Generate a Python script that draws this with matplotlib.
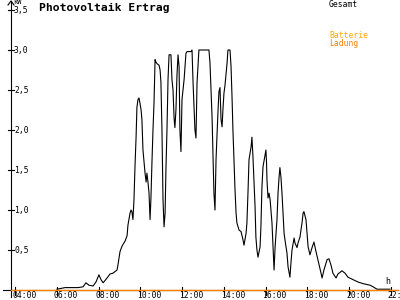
import matplotlib
matplotlib.use('Agg')
import matplotlib.pyplot as plt

# ---- data ----
hours = [6.01, 6.40, 6.73, 7.02, 7.26, 7.40, 7.54, 7.74, 7.88, 8.02,
         8.12, 8.22, 8.41, 8.55, 8.69, 8.79, 8.89, 8.93, 9.03, 9.13,
         9.27, 9.37, 9.41, 9.51, 9.56, 9.60, 9.65, 9.70, 9.75, 9.80,
         9.84, 9.89, 9.94, 9.99, 10.04, 10.08, 10.13, 10.23, 10.28, 10.32,
         10.37, 10.42, 10.47, 10.51, 10.56, 10.61, 10.66, 10.71, 10.75, 10.80,
         10.90, 10.95, 10.99, 11.04, 11.09, 11.14, 11.19, 11.23, 11.28, 11.33,
         11.38, 11.47, 11.52, 11.57, 11.62, 11.66, 11.71, 11.76, 11.81, 11.86,
         11.90, 11.95, 12.00, 12.10, 12.19, 12.24, 12.43, 12.48, 12.53, 12.62,
         12.67, 12.72, 12.81, 13.29, 13.34, 13.44, 13.49, 13.53, 13.58, 13.63,
         13.72, 13.77, 13.82, 13.87, 13.92, 13.96, 14.01, 14.06, 14.16, 14.20,
         14.30, 14.35, 14.40, 14.44, 14.49, 14.54, 14.59, 14.63, 14.73, 14.83,
         14.92, 14.97, 15.07, 15.11, 15.16, 15.21, 15.31, 15.35, 15.40, 15.45,
         15.50, 15.54, 15.59, 15.64, 15.74, 15.78, 15.83, 15.88, 15.98, 16.02,
         16.05, 16.07, 16.12, 16.17, 16.22, 16.31, 16.36, 16.41, 16.46, 16.55,
         16.60, 16.65, 16.69, 16.74, 16.79, 16.84, 16.89, 16.93, 17.03, 17.08,
         17.17, 17.22, 17.27, 17.37, 17.41, 17.51, 17.56, 17.65, 17.75, 17.80,
         17.84, 17.94, 18.04, 18.13, 18.23, 18.32, 18.42, 18.51, 18.66, 18.71,
         18.80, 18.95, 19.04, 19.14, 19.23, 19.38, 19.47, 19.66, 19.81, 19.95,
         20.19, 20.43, 20.67, 21.01, 21.15, 21.34, 21.96]
gesamt_kw = [0.01, 0.03, 0.03, 0.03, 0.04, 0.09, 0.06, 0.05, 0.10, 0.19,
             0.13, 0.09, 0.15, 0.20, 0.21, 0.23, 0.25, 0.31, 0.48, 0.55,
             0.61, 0.68, 0.81, 0.96, 1.00, 0.98, 0.88, 1.13, 1.56, 1.91,
             2.28, 2.38, 2.40, 2.33, 2.25, 2.13, 1.75, 1.46, 1.35, 1.46,
             1.35, 1.21, 0.88, 1.13, 1.59, 2.00, 2.34, 2.88, 2.85, 2.83,
             2.81, 2.75, 2.60, 2.00, 1.13, 0.79, 0.96, 1.50, 2.00, 2.63,
             2.94, 2.94, 2.63, 2.50, 2.15, 2.03, 2.25, 2.69, 2.94, 2.79,
             2.00, 1.73, 2.38, 2.63, 2.96, 2.98, 2.98, 3.00, 2.59, 2.00,
             1.90, 2.59, 3.00, 3.00, 2.84, 2.16, 1.66, 1.21, 1.00, 1.63,
             2.21, 2.48, 2.53, 2.13, 2.04, 2.25, 2.46, 2.56, 2.84, 3.00,
             3.00, 2.79, 2.38, 2.00, 1.63, 1.25, 0.96, 0.84, 0.75, 0.73,
             0.63, 0.56, 0.71, 0.84, 1.21, 1.63, 1.79, 1.91, 1.66, 1.34,
             1.04, 0.66, 0.50, 0.41, 0.54, 0.79, 1.29, 1.54, 1.69, 1.75,
             1.59, 1.38, 1.15, 1.21, 1.13, 0.84, 0.54, 0.25, 0.54, 0.88,
             1.21, 1.41, 1.53, 1.41, 1.21, 0.96, 0.71, 0.63, 0.46, 0.29,
             0.16, 0.34, 0.50, 0.65, 0.59, 0.53, 0.59, 0.66, 0.84, 0.96,
             0.98, 0.88, 0.54, 0.44, 0.53, 0.60, 0.48, 0.38, 0.21, 0.15,
             0.25, 0.38, 0.39, 0.31, 0.21, 0.15, 0.20, 0.24, 0.21, 0.16,
             0.13, 0.10, 0.08, 0.06, 0.04, 0.01, 0.01]
ladung_hours = [3.81, 22.35]
ladung_kw = [0.0, 0.0]

x_ticks = [4, 6, 8, 10, 12, 14, 16, 18, 20, 22]
x_tick_labels = ['04:00', '06:00', '08:00', '10:00', '12:00',
                 '14:00', '16:00', '18:00', '20:00', '22:00']
y_ticks = [0.5, 1.0, 1.5, 2.0, 2.5, 3.0, 3.5]
y_tick_labels = ['0,5', '1,0', '1,5', '2,0', '2,5', '3,0', '3,5']
title = 'Photovoltaik Ertrag'
series_labels = ['Gesamt', 'Batterie', 'Ladung']
series_colors = ['#000000', '#ffa800', '#ff8000']
y_unit = 'kW'
x_unit = 'h'

# ---- layout: axes fill the figure, pixel-scaled ----
PXH = 20.875          # pixels per hour
PXK = 80.0            # pixels per kW
X0PIX, Y0PIX = 15, 290  # pixel of 04:00 and of 0 kW

fig = plt.figure(figsize=(4, 3), dpi=100)
ax = fig.add_axes([0, 0, 1, 1])
hx0 = 4 - X0PIX / PXH
ax.set_xlim(hx0, hx0 + 400 / PXH)
ax.set_ylim((Y0PIX - 300) / PXK, Y0PIX / PXK)
ax.axis('off')


def px(x):
    return hx0 + x / PXH


def py(y):
    return (Y0PIX - y) / PXK


mono = 'DejaVu Sans Mono'
lw = 0.8

# axes lines with arrows
ax.plot([px(11), px(11)], [py(297), py(1)], color='black', lw=lw)
ax.plot([px(8), px(11), px(14)], [py(5), py(1), py(5)], color='black', lw=lw)
ax.plot([px(3), px(398)], [py(290), py(290)], color='black', lw=lw)

# ticks
for h in x_ticks:
    ax.plot([h, h], [py(287), py(295)], color='black', lw=lw)
for v in y_ticks:
    ax.plot([px(8), px(14)], [v, v], color='black', lw=lw)

# tick labels
for h, lab in zip(x_ticks, x_tick_labels):
    ax.text(h - 3 / PXH, py(296), lab, ha='left', va='center',
            fontsize=5.8, family=mono, color='black')
for v, lab in zip(y_ticks, y_tick_labels):
    ax.text(px(14), v - 0.5 / PXK, lab, ha='left', va='center',
            fontsize=5.8, family=mono, color='black')

ax.text(px(13), py(2.5), y_unit, ha='left', va='center', fontsize=5,
        family=mono, color='black')
ax.text(px(388), py(281), x_unit, ha='center', va='center', fontsize=6,
        family=mono, color='black')

# title
ax.text(px(39), py(7.5), title, ha='left', va='center', fontsize=8.2,
        family=mono, fontweight='bold', color='black')

# legend texts
ax.text(px(329), py(4.5), series_labels[0], ha='left', va='center',
        fontsize=5.8, family=mono, color=series_colors[0])
ax.text(px(329), py(35.5), series_labels[1], ha='left', va='center',
        fontsize=5.8, family=mono, color=series_colors[1])
ax.text(px(329), py(44), series_labels[2], ha='left', va='center',
        fontsize=5.8, family=mono, color=series_colors[2])

# data
ax.plot(hours, gesamt_kw, color=series_colors[0], lw=0.8)
ax.plot(ladung_hours, ladung_kw, color=series_colors[2], lw=1.0)

fig.savefig('out.png', dpi=100, facecolor='white')
